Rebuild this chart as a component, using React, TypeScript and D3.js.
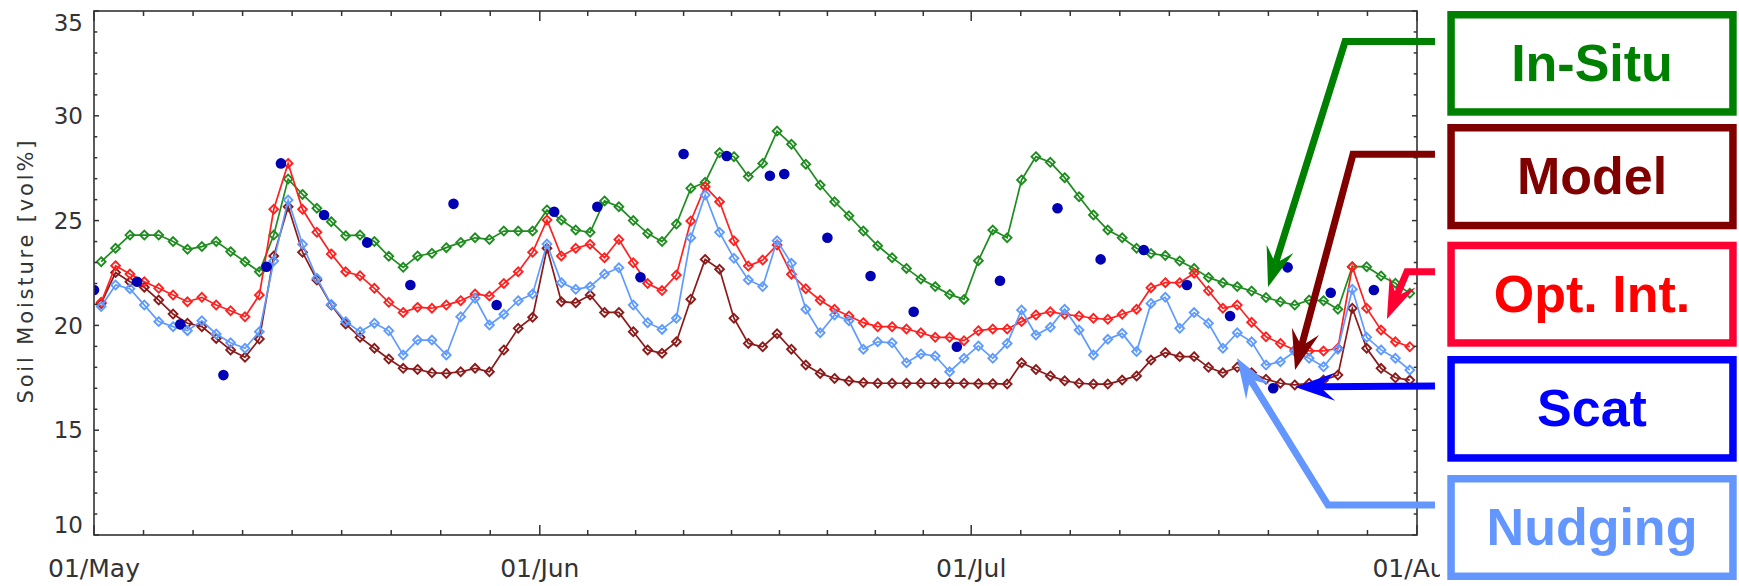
import React from "react";
import * as d3 from "d3";

// ---------- data ----------
const monthStarts = [0, 31, 61, 92];
const monthLabels = ["01/May", "01/Jun", "01/Jul", "01/Aug"];
const yTickValues = [10, 15, 20, 25, 30, 35];

const inSitu = [23.04, 23.68, 24.31, 24.31, 24.31, 24.0, 23.63, 23.76, 24.0, 23.52, 23.04, 22.56, 24.31, 26.98, 26.25, 25.59, 24.95, 24.28, 24.31, 24.0, 23.3, 22.77, 23.31, 23.44, 23.71, 23.96, 24.18, 24.1, 24.5, 24.5, 24.5, 25.51, 25.03, 24.55, 24.44, 25.94, 25.66, 25.0, 24.39, 24.0, 24.84, 26.54, 26.83, 28.24, 28.05, 27.1, 27.73, 29.27, 28.64, 27.69, 26.7, 25.9, 25.23, 24.5, 23.8, 23.23, 22.72, 22.21, 21.85, 21.48, 21.24, 23.09, 24.55, 24.18, 26.94, 28.05, 27.78, 27.05, 26.14, 25.27, 24.55, 24.18, 23.68, 23.43, 23.33, 23.07, 22.72, 22.29, 22.04, 21.85, 21.64, 21.33, 21.13, 20.97, 21.21, 21.18, 20.77, 22.8, 22.8, 22.36, 22.01, 21.53];

const optInt = [21.1, 22.85, 22.45, 22.08, 21.77, 21.45, 21.13, 21.34, 20.97, 20.7, 20.41, 21.45, 25.54, 27.73, 25.54, 24.44, 23.41, 22.56, 22.37, 21.77, 21.1, 20.62, 20.86, 20.82, 20.97, 21.18, 21.5, 21.4, 22.0, 22.56, 23.49, 25.03, 23.31, 23.68, 23.87, 23.23, 24.1, 22.99, 22.0, 21.66, 22.4, 24.98, 26.62, 25.9, 24.04, 22.83, 23.12, 23.84, 22.44, 21.75, 21.2, 20.77, 20.45, 20.13, 19.94, 19.94, 19.83, 19.65, 19.43, 19.43, 19.27, 19.75, 19.83, 19.83, 20.18, 20.5, 20.65, 20.53, 20.45, 20.34, 20.29, 20.53, 20.77, 21.8, 22.04, 22.04, 22.49, 21.65, 20.82, 20.97, 20.15, 19.46, 19.14, 18.83, 18.78, 18.78, 18.91, 22.8, 20.82, 19.78, 19.22, 18.98];

const model = [21.05, 22.52, 22.08, 21.82, 21.21, 20.54, 20.1, 19.94, 19.38, 18.83, 18.48, 19.35, 23.31, 25.66, 23.49, 22.17, 20.97, 20.07, 19.43, 18.91, 18.4, 17.95, 17.9, 17.74, 17.71, 17.79, 17.95, 17.79, 18.83, 19.86, 20.39, 23.68, 21.13, 21.08, 21.45, 20.62, 20.62, 19.7, 18.83, 18.67, 19.22, 21.25, 23.15, 22.68, 20.34, 19.14, 18.98, 19.6, 18.86, 18.11, 17.71, 17.47, 17.35, 17.27, 17.24, 17.24, 17.24, 17.24, 17.24, 17.24, 17.24, 17.22, 17.22, 17.2, 18.22, 17.9, 17.59, 17.36, 17.24, 17.2, 17.2, 17.39, 17.59, 18.35, 18.7, 18.51, 18.51, 18.0, 17.74, 18.0, 17.74, 17.43, 17.24, 17.16, 17.24, 17.39, 17.63, 20.82, 18.91, 17.95, 17.5, 17.39];

const nudging = [20.9, 21.93, 21.75, 20.97, 20.18, 19.94, 19.75, 20.22, 19.59, 19.17, 18.91, 19.7, 23.07, 25.98, 23.87, 22.25, 21.0, 20.18, 19.7, 20.1, 19.74, 18.59, 19.3, 19.3, 18.59, 20.41, 21.29, 20.02, 20.53, 21.18, 21.5, 23.88, 22.04, 21.72, 21.85, 22.45, 22.75, 20.97, 20.13, 19.81, 20.34, 24.18, 26.22, 24.44, 23.2, 22.17, 21.85, 24.04, 22.96, 20.77, 19.65, 20.5, 20.22, 18.86, 19.22, 19.17, 18.22, 18.64, 18.54, 17.79, 18.43, 19.02, 18.43, 19.14, 20.73, 19.54, 19.91, 20.77, 19.78, 18.59, 19.34, 19.62, 18.75, 21.05, 21.34, 19.86, 20.61, 20.1, 18.91, 19.65, 19.22, 18.11, 18.27, 18.75, 18.43, 18.03, 18.86, 21.72, 19.43, 18.83, 18.43, 17.87];

const scatDays = [0, 3, 6, 9, 12, 13, 16, 19, 22, 25, 28, 32, 35, 38, 41, 44, 47, 48, 51, 54, 57, 60, 63, 67, 70, 73, 76, 79, 82, 83, 86, 89];
const scatValues = [21.69, 22.08, 20.05, 17.63, 22.8, 27.73, 25.27, 23.95, 21.93, 25.8, 20.97, 25.42, 25.66, 22.3, 28.18, 28.08, 27.14, 27.22, 24.18, 22.36, 20.65, 18.98, 22.13, 25.59, 23.15, 23.6, 21.93, 20.45, 17.0, 22.77, 21.56, 21.69];

const legendLabels = ["In-Situ", "Model", "Opt. Int.", "Scat", "Nudging"];

// ---------- layout / style ----------
const W = 1739;
const H = 586;
const L = 94, R = 1417, T = 11, B = 535;

const x = d3.scaleLinear().domain([0, 92]).range([L, R]);
const y = d3.scaleLinear().domain([10, 35]).range([B, T]);

const axisColor = "#333";
const labelFont = "'DejaVu Sans', sans-serif";

const seriesDefs = [
  { values: inSitu, color: "#1f8c1f" },
  { values: model, color: "#8b1a1a" },
  { values: optInt, color: "#ff2020" },
  { values: nudging, color: "#5f9bff" },
];

const legendStyles = [
  { top: 11, bottom: 115.7, stroke: "#008000", text: "#008000" },
  { top: 124, bottom: 229.3, stroke: "#800000", text: "#800000" },
  { top: 241.7, bottom: 346.7, stroke: "#ff0033", text: "#ff0000" },
  { top: 356, bottom: 461.7, stroke: "#0000ff", text: "#0000ff" },
  { top: 475, bottom: 580, stroke: "#6496ff", text: "#6496ff" },
];

// annotation arrows, in data units (day, value)
const arrowDefs = [
  { color: "#008000", pts: [[93.25, 33.54], [87.0, 33.54], [81.64, 21.83]] },
  { color: "#800000", pts: [[93.25, 28.16], [87.55, 28.16], [83.52, 17.87]] },
  { color: "#ff0033", pts: [[93.25, 22.56], [91.3, 22.56], [89.91, 20.31]] },
  { color: "#0000ff", pts: [[93.25, 17.11], [83.52, 17.06]] },
  { color: "#6496ff", pts: [[93.25, 11.43], [85.81, 11.43], [79.48, 18.44]] },
];

function diamond(r: number) {
  return `M0,${-r}L${r},0L0,${r}L${-r},0Z`;
}

function Arrow({ color, pts }: { color: string; pts: number[][] }) {
  const p = pts.map(([d, v]) => [x(d), y(v)]);
  const tip = p[p.length - 1];
  const prev = p[p.length - 2];
  const dx = tip[0] - prev[0], dy = tip[1] - prev[1];
  const len = Math.hypot(dx, dy);
  const ux = dx / len, uy = dy / len;
  const nx = -uy, ny = ux;
  const HL = 40, HW = 14, notch = 0.62;
  const w1 = [tip[0] - HL * ux + HW * nx, tip[1] - HL * uy + HW * ny];
  const w2 = [tip[0] - HL * ux - HW * nx, tip[1] - HL * uy - HW * ny];
  const nb = [tip[0] - notch * HL * ux, tip[1] - notch * HL * uy];
  const linePts = [...p.slice(0, -1), nb];
  return (
    <g>
      <polyline
        points={linePts.map((q) => q.join(",")).join(" ")}
        fill="none"
        stroke={color}
        strokeWidth={7}
        strokeLinejoin="miter"
      />
      <polygon points={[tip, w1, nb, w2].map((q) => q.join(",")).join(" ")} fill={color} />
    </g>
  );
}

export default function App() {
  const line = d3
    .line<number>()
    .x((_, i) => x(i + 0.5))
    .y((v) => y(v));

  const xMinor: number[] = [];
  for (let m = 0; m < 3; m++) {
    const s = monthStarts[m];
    const len = monthStarts[m + 1] - s;
    for (let k = 1; k < 9; k++) xMinor.push(s + (k * len) / 9);
  }
  const yMinor = d3.range(11, 35).filter((v) => v % 5 !== 0);

  const yLabelPos = (v: number) => (v === 35 ? y(v) + 12 : v === 10 ? y(v) - 10 : y(v));

  return (
    <svg
      width={W}
      height={H}
      style={{ position: "fixed", left: 0, top: 0, background: "#fff" }}
      xmlns="http://www.w3.org/2000/svg"
    >
      <defs>
        <clipPath id="plotClip">
          <rect x={L} y={T} width={R - L} height={B - T} />
        </clipPath>
        <clipPath id="labelClip">
          <rect x={0} y={0} width={1440} height={H} />
        </clipPath>
      </defs>
      <rect x={0} y={0} width={W} height={H} fill="#fff" />

      {/* series */}
      <g clipPath="url(#plotClip)">
        {seriesDefs.map((s, si) => (
          <g key={si}>
            <path d={line(s.values) || ""} fill="none" stroke={s.color} strokeWidth={1.7} />
            {s.values.map((v, i) => (
              <path
                key={i}
                d={diamond(4.4)}
                transform={`translate(${x(i + 0.5)},${y(v)})`}
                fill="none"
                stroke={s.color}
                strokeWidth={1.9}
              />
            ))}
          </g>
        ))}
        {scatDays.map((d, i) => (
          <circle key={i} cx={x(d)} cy={y(scatValues[i])} r={5.3} fill="#0000b4" />
        ))}
      </g>

      {/* frame */}
      <rect x={L} y={T} width={R - L} height={B - T} fill="none" stroke={axisColor} strokeWidth={1.6} />

      {/* x ticks */}
      {monthStarts.map((d, i) => (
        <g key={"xm" + i}>
          <line x1={x(d)} x2={x(d)} y1={B} y2={B - 10} stroke={axisColor} strokeWidth={1.5} />
          <line x1={x(d)} x2={x(d)} y1={T} y2={T + 10} stroke={axisColor} strokeWidth={1.5} />
        </g>
      ))}
      {xMinor.map((d, i) => (
        <g key={"xn" + i}>
          <line x1={x(d)} x2={x(d)} y1={B} y2={B - 5} stroke={axisColor} strokeWidth={1.5} />
          <line x1={x(d)} x2={x(d)} y1={T} y2={T + 5} stroke={axisColor} strokeWidth={1.5} />
        </g>
      ))}
      {/* y ticks */}
      {yTickValues.map((v, i) => (
        <g key={"ym" + i}>
          <line x1={L} x2={L + 5} y1={y(v)} y2={y(v)} stroke={axisColor} strokeWidth={1.5} />
          <line x1={R} x2={R - 5} y1={y(v)} y2={y(v)} stroke={axisColor} strokeWidth={1.5} />
        </g>
      ))}
      {yMinor.map((v, i) => (
        <g key={"yn" + i}>
          <line x1={L} x2={L + 3.3} y1={y(v)} y2={y(v)} stroke={axisColor} strokeWidth={1.5} />
          <line x1={R} x2={R - 3.3} y1={y(v)} y2={y(v)} stroke={axisColor} strokeWidth={1.5} />
        </g>
      ))}

      {/* y labels */}
      {yTickValues.map((v, i) => (
        <text
          key={"yl" + i}
          x={83}
          y={yLabelPos(v)}
          dy="0.36em"
          textAnchor="end"
          fontFamily={labelFont}
          fontSize={23}
          fill={axisColor}
        >
          {v}
        </text>
      ))}
      {/* x labels */}
      <g clipPath="url(#labelClip)">
        {monthStarts.map((d, i) => (
          <text
            key={"xl" + i}
            x={x(d)}
            y={577}
            textAnchor="middle"
            fontFamily={labelFont}
            fontSize={25}
            fill={axisColor}
          >
            {monthLabels[i]}
          </text>
        ))}
      </g>

      {/* y title */}
      <text
        transform={`translate(33,${(T + B) / 2 - 1}) rotate(-90)`}
        textAnchor="middle"
        fontFamily={labelFont}
        fontSize={21}
        fill={axisColor}
        textLength={263}
        lengthAdjust="spacing"
      >
        Soil Moisture [vol%]
      </text>

      {/* legend */}
      {legendStyles.map((s, i) => (
        <g key={"lg" + i}>
          <rect
            x={1447.3 + 3.75}
            y={s.top + 3.75}
            width={1736.7 - 1447.3 - 7.5}
            height={s.bottom - s.top - 7.5}
            fill="#fff"
            stroke={s.stroke}
            strokeWidth={7.5}
          />
          <text
            x={1592}
            y={(s.top + s.bottom) / 2 + 17.5}
            textAnchor="middle"
            fontFamily="'Liberation Sans', Arial, sans-serif"
            fontWeight="bold"
            fontSize={52}
            fill={s.text}
          >
            {legendLabels[i]}
          </text>
        </g>
      ))}

      {/* arrows */}
      {arrowDefs.map((a, i) => (
        <Arrow key={"ar" + i} color={a.color} pts={a.pts} />
      ))}
    </svg>
  );
}
